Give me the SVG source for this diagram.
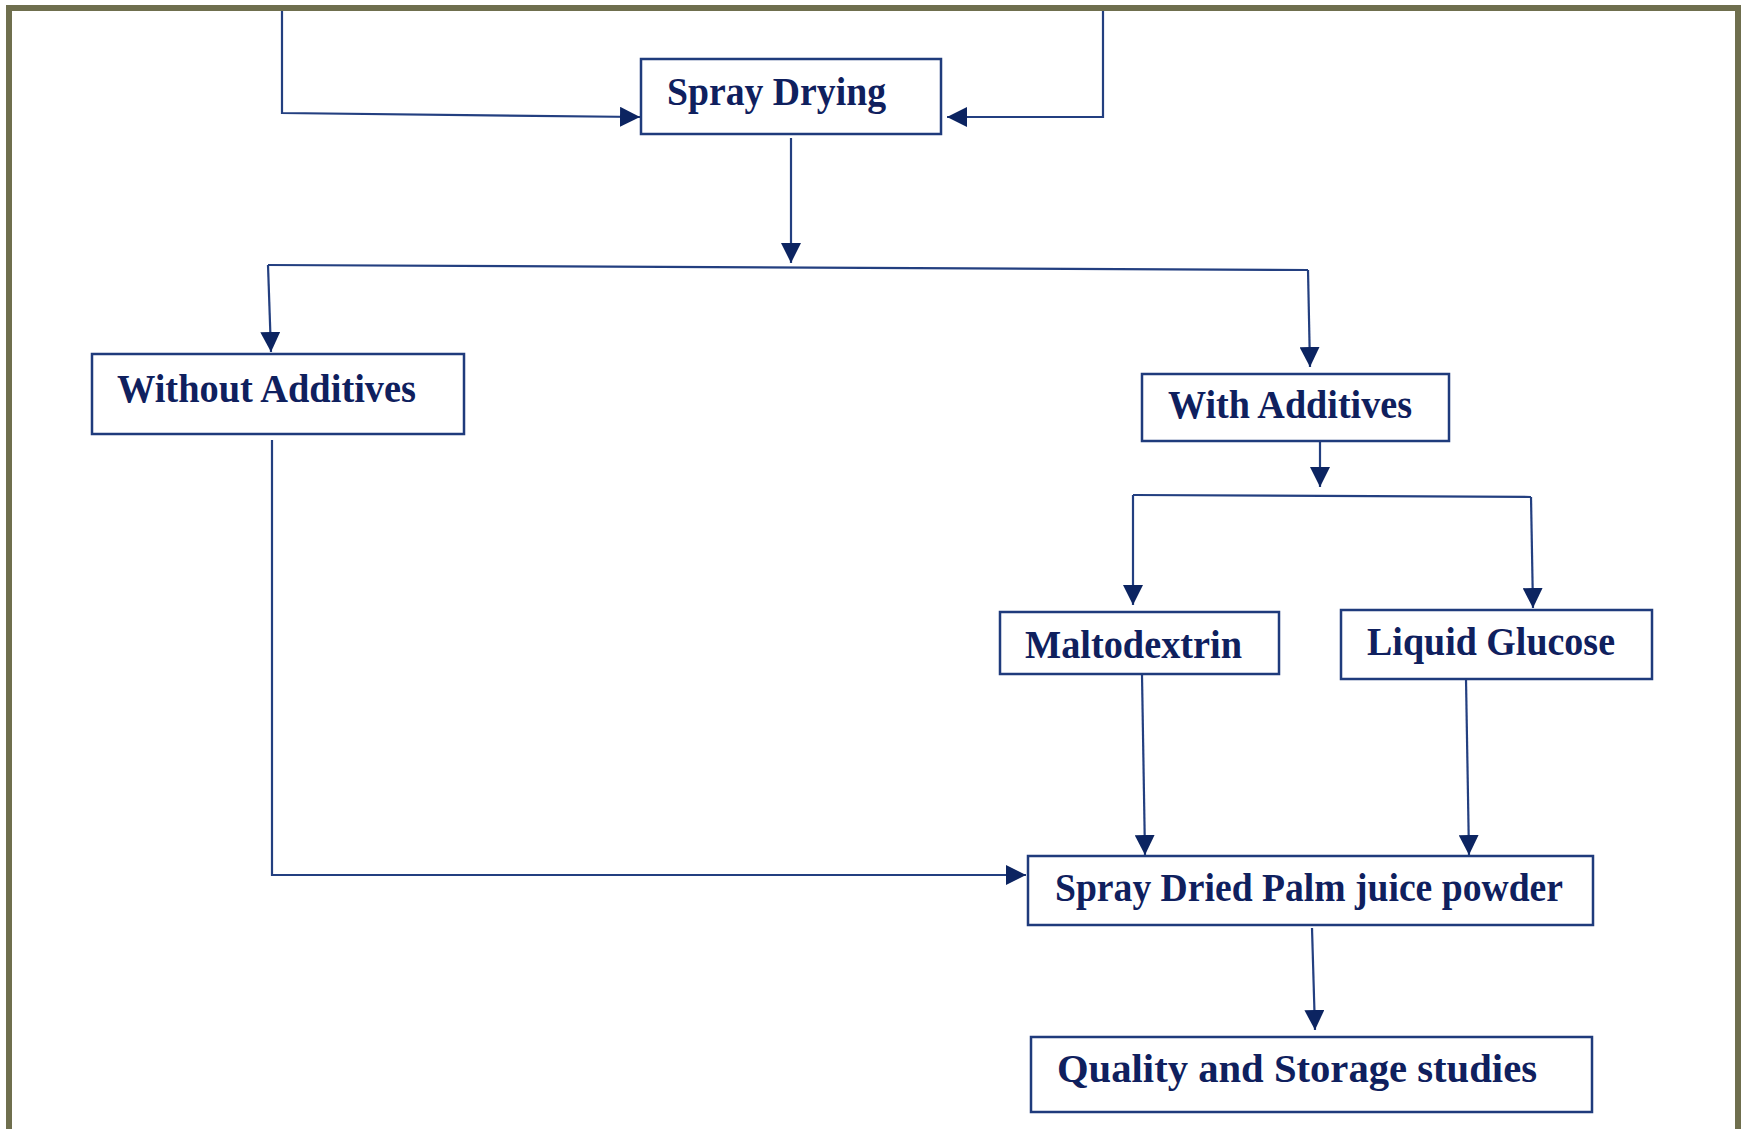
<svg xmlns="http://www.w3.org/2000/svg" width="1742" height="1129" viewBox="0 0 1742 1129">
<style>
.box{fill:#ffffff;stroke:#1f3b7c;stroke-width:2.5}
.lbl{font-family:"Liberation Serif","Times New Roman",serif;font-weight:bold;font-size:39px;fill:#0f205e}
.ln{fill:none;stroke:#233f80;stroke-width:2.2}
.frame{fill:none;stroke:#6f6f4e;stroke-width:6}
</style>
<defs>
<marker id="ah" viewBox="0 0 20 20" refX="20" refY="10" markerWidth="20" markerHeight="20" markerUnits="userSpaceOnUse" orient="auto">
<path d="M0,0 L20,10 L0,20 Z" fill="#0c2461"/>
</marker>
</defs>
<rect width="1742" height="1129" fill="#ffffff"/>
<rect class="frame" x="9" y="8" width="1729" height="1200"/>
<g id="connectors">
<path class="ln" d="M282,11 V113 L640,117" marker-end="url(#ah)"/>
<path class="ln" d="M1103,11 V117 H947" marker-end="url(#ah)"/>
<path class="ln" d="M791,138 V263" marker-end="url(#ah)"/>
<path class="ln" d="M268,265 L1308,270"/>
<path class="ln" d="M268,265 L271,352" marker-end="url(#ah)"/>
<path class="ln" d="M1308,270 L1310,367" marker-end="url(#ah)"/>
<path class="ln" d="M1320,441 V487" marker-end="url(#ah)"/>
<path class="ln" d="M1133,495 L1531,497"/>
<path class="ln" d="M1133,495 V605" marker-end="url(#ah)"/>
<path class="ln" d="M1531,497 L1533,608" marker-end="url(#ah)"/>
<path class="ln" d="M1142,675 L1145,855" marker-end="url(#ah)"/>
<path class="ln" d="M1466,679 L1469,855" marker-end="url(#ah)"/>
<path class="ln" d="M272,440 V875 H1026" marker-end="url(#ah)"/>
<path class="ln" d="M1312,928 L1315,1030" marker-end="url(#ah)"/>
</g>
<g id="spray-drying">
<rect class="box" x="641" y="59" width="300" height="75"/>
<text class="lbl" x="667" y="105" textLength="219" lengthAdjust="spacingAndGlyphs">Spray Drying</text>
</g>
<g id="without-additives">
<rect class="box" x="92" y="354" width="372" height="80"/>
<text class="lbl" x="117" y="402" textLength="299" lengthAdjust="spacingAndGlyphs">Without Additives</text>
</g>
<g id="with-additives">
<rect class="box" x="1142" y="374" width="307" height="67"/>
<text class="lbl" x="1168" y="418" textLength="244" lengthAdjust="spacingAndGlyphs">With Additives</text>
</g>
<g id="maltodextrin">
<rect class="box" x="1000" y="612" width="279" height="62"/>
<text class="lbl" x="1025" y="658" textLength="217" lengthAdjust="spacingAndGlyphs">Maltodextrin</text>
</g>
<g id="liquid-glucose">
<rect class="box" x="1341" y="610" width="311" height="69"/>
<text class="lbl" x="1367" y="655" textLength="248" lengthAdjust="spacingAndGlyphs">Liquid Glucose</text>
</g>
<g id="spray-dried-powder">
<rect class="box" x="1028" y="856" width="565" height="69"/>
<text class="lbl" x="1055" y="901" textLength="508" lengthAdjust="spacingAndGlyphs">Spray Dried Palm juice powder</text>
</g>
<g id="quality-storage">
<rect class="box" x="1031" y="1037" width="561" height="75"/>
<text class="lbl" x="1057" y="1082" textLength="480" lengthAdjust="spacingAndGlyphs">Quality  and Storage studies</text>
</g>
</svg>
